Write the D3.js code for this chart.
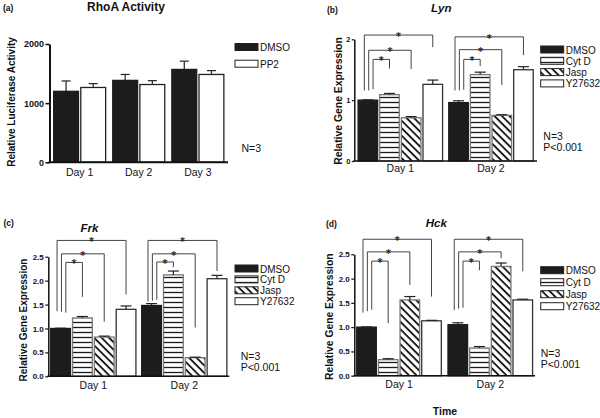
<!DOCTYPE html>
<html><head><meta charset="utf-8">
<script src="https://cdn.jsdelivr.net/npm/d3@7"></script>
<style>
body{margin:0;background:#fff}
svg{display:block}
text{font-family:"Liberation Sans",Arial,Helvetica,sans-serif;fill:#111}
text.star{font-family:"DejaVu Sans",sans-serif;fill:#222;stroke:#222;stroke-width:0.25}
</style>
</head><body>
<svg id="chart" width="600" height="418"></svg>
<script>
// ---------------- DATA ----------------
const days3 = ["Day 1", "Day 2", "Day 3"];
const days2 = ["Day 1", "Day 2"];
const rhoaSeries = ["DMSO", "PP2"];
const rhoaDMSO = [1200, 1385, 1570];
const rhoaDMSOErr = [175, 100, 140];
const rhoaPP2 = [1265, 1315, 1485];
const rhoaPP2Err = [65, 65, 65];
const rhoaTicks = [0, 1000, 2000];

const geneSeries = ["DMSO", "Cyt D", "Jasp", "Y27632"];
// values per day: [DMSO, Cyt D, Jasp, Y27632]
const lynValues = [[1.00, 1.09, 0.71, 1.26], [0.96, 1.42, 0.75, 1.50]];
const lynErrors = [[0.005, 0.02, 0.02, 0.07], [0.03, 0.04, 0.01, 0.05]];
const lynTicks = [0, 1, 2];
const frkValues = [[1.00, 1.22, 0.82, 1.40], [1.48, 2.12, 0.39, 2.04]];
const frkErrors = [[0.005, 0.03, 0.02, 0.07], [0.04, 0.08, 0.01, 0.07]];
const hckValues = [[1.00, 0.33, 1.56, 1.13], [1.05, 0.57, 2.25, 1.56]];
const hckErrors = [[0.005, 0.02, 0.07, 0.01], [0.04, 0.03, 0.07, 0.015]];
const geneTicks = [0, 0.5, 1.0, 1.5, 2.0, 2.5];

// significance brackets: [day, target series, top level, DMSO-leg bottom, target-leg bottom]
const lynBrackets = [[0,3,2.07,1.16,1.87],[0,2,1.82,1.16,1.51],[0,1,1.67,1.18,1.52],
                     [1,3,2.04,1.16,1.74],[1,2,1.83,1.16,1.25],[1,1,1.67,1.17,1.56]];
const frkBrackets = [[0,3,2.84,1.36,1.71],[0,2,2.56,1.35,1.14],[0,1,2.38,1.33,1.66],
                     [1,3,2.84,1.56,2.20],[1,2,2.56,1.58,1.02],[1,1,2.39,1.60,2.28]];
const hckBrackets = [[0,3,2.81,1.30,1.63],[0,2,2.55,1.33,1.87],[0,1,2.36,1.36,1.08],
                     [1,3,2.81,1.35,2.15],[1,2,2.55,1.38,2.42],[1,1,2.36,1.40,2.17]];
const statsText = ["N=3", "P<0.001"];

// ---------------- DRAWING ----------------
const svg = d3.select("#chart");
const defs = svg.append("defs");
const hp = defs.append("pattern").attr("id","hstripe").attr("patternUnits","userSpaceOnUse")
  .attr("width",6).attr("height",5);
hp.append("rect").attr("width",6).attr("height",5).attr("fill","#fff");
hp.append("line").attr("x1",0).attr("x2",6).attr("y1",2.5).attr("y2",2.5)
  .attr("stroke","#1a1a1a").attr("stroke-width",1.3);
const dp = defs.append("pattern").attr("id","dstripe").attr("patternUnits","userSpaceOnUse")
  .attr("width",5.3).attr("height",5.3).attr("patternTransform","rotate(-45)");
dp.append("rect").attr("width",5.3).attr("height",5.3).attr("fill","#fff");
dp.append("line").attr("x1",2.6).attr("x2",2.6).attr("y1",0).attr("y2",5.3)
  .attr("stroke","#1a1a1a").attr("stroke-width",1.9);

const fills = {"DMSO":"#1c1c1c","PP2":"#fff","Cyt D":"url(#hstripe)","Jasp":"url(#dstripe)","Y27632":"#fff"};
const strokes = {"DMSO":"#1c1c1c","PP2":"#222","Cyt D":"#777","Jasp":"#777","Y27632":"#333"};

function drawPanel(c) {
  const g = svg.append("g");
  const y = d3.scaleLinear().domain([0, c.yMax]).range([c.y0, c.yTop]);
  const xo = d3.scaleBand().domain(c.groups).range([c.x0, c.x1])
    .paddingInner(c.pIn).paddingOuter(c.pOut);
  const xi = d3.scaleBand().domain(c.series).range([0, xo.bandwidth()]).paddingInner(c.barGap);
  const bw = xi.bandwidth();

  // bars
  c.groups.forEach((grp, gi) => {
    c.series.forEach((s, si) => {
      const v = c.val(gi, si), e = c.err(gi, si);
      const bx = xo(grp) + xi(s);
      g.append("rect").attr("x", bx + 0.6).attr("y", y(v))
        .attr("width", bw - 1.2).attr("height", y(0) - y(v))
        .attr("fill", fills[s]).attr("stroke", strokes[s]).attr("stroke-width", 1.3);
      const cx = bx + bw / 2;
      g.append("line").attr("x1", cx).attr("x2", cx).attr("y1", y(v)).attr("y2", y(v + e))
        .attr("stroke", "#222").attr("stroke-width", 1.2);
      g.append("line").attr("x1", cx - c.cap/2).attr("x2", cx + c.cap/2)
        .attr("y1", y(v + e)).attr("y2", y(v + e)).attr("stroke", "#222").attr("stroke-width", 1.2);
    });
  });

  // brackets
  if (c.brackets) {
    const frac = [0.33, 0.54, 0.75];
    c.brackets.forEach(b => {
      const [gi, ti, top, lb, rb] = b;
      const grp = c.groups[gi];
      const xl = xo(grp) + xi(c.series[0]) + bw * frac[3 - ti];
      const xr = xo(grp) + xi(c.series[ti]) + bw / 2;
      g.append("path")
        .attr("d", `M${xl},${y(lb)}V${y(top)}H${xr}V${y(rb)}`)
        .attr("fill", "none").attr("stroke", "#444").attr("stroke-width", 1);
      g.append("text").attr("class", "star").attr("x", (xl + xr) / 2).attr("y", y(top) + 5)
        .attr("text-anchor", "middle").attr("font-size", 10).text("*");
    });
  }

  // axes
  const ya = g.append("g").attr("transform", `translate(${c.x0},0)`)
    .call(d3.axisLeft(y).tickValues(c.ticks).tickFormat(c.fmt).tickSize(c.tick).tickSizeOuter(0).tickPadding(1.5));
  ya.select(".domain").attr("stroke", "#111").attr("stroke-width", c.axW);
  ya.selectAll(".tick line").attr("stroke", "#111").attr("stroke-width", c.axW * 0.8);
  ya.selectAll("text").attr("font-size", c.tickFs).attr("font-weight", "bold")
    .style("font-family", '"Liberation Sans",Arial,sans-serif').attr("fill", "#111");

  const xa = g.append("g").attr("transform", `translate(0,${c.y0})`)
    .call(d3.axisBottom(xo).tickSize(0).tickSizeOuter(0).tickPadding(c.xPad));
  xa.select(".domain").attr("stroke", "#111").attr("stroke-width", c.axW)
    .attr("d", `M${c.x0 - c.axW/2},0H${c.x1}`);
  xa.selectAll("text").attr("font-size", c.xFs)
    .style("font-family", '"Liberation Sans",Arial,sans-serif').attr("fill", "#111");

  // y label
  g.append("text").attr("transform", `translate(${c.ylx},${c.yly}) rotate(-90)`)
    .attr("text-anchor", "middle").attr("font-size", c.ylFs).attr("font-weight", "bold")
    .text(c.ylabel);
  // title
  g.append("text").attr("x", c.tx).attr("y", c.ty).attr("text-anchor", "middle")
    .attr("font-size", c.tFs).attr("font-weight", "bold")
    .attr("font-style", c.italic ? "italic" : "normal").text(c.title);
  // panel letter
  g.append("text").attr("x", c.lx).attr("y", c.ly).attr("font-size", 8.5)
    .attr("font-weight", "bold").text(c.letter);

  // legend
  c.series.forEach((s, i) => {
    const ry = c.legY + i * c.legS;
    g.append("rect").attr("x", c.legX).attr("y", ry).attr("width", 23).attr("height", 7)
      .attr("fill", fills[s]).attr("stroke", "#222").attr("stroke-width", 1);
    g.append("text").attr("x", c.legX + 25).attr("y", ry + 7.5)
      .attr("font-size", 10).text(s);
  });
  // stats
  c.stats.forEach((t, i) => {
    g.append("text").attr("x", c.sx).attr("y", c.sy + i * 11)
      .attr("font-size", 10.5).text(t);
  });
}

drawPanel({
  groups: days3, series: rhoaSeries,
  val: (gi, si) => (si === 0 ? rhoaDMSO : rhoaPP2)[gi],
  err: (gi, si) => (si === 0 ? rhoaDMSOErr : rhoaPP2Err)[gi],
  yMax: 2000, ticks: rhoaTicks, fmt: d3.format("d"),
  x0: 49.5, x1: 228, y0: 162.3, yTop: 44, pIn: 0.1, pOut: 0.06, barGap: 0.04,
  cap: 9, axW: 2, tick: 4, tickFs: 9, xFs: 10.5, xPad: 6,
  ylabel: "Relative Luciferase Activity", ylx: 15, yly: 102, ylFs: 10,
  title: "RhoA Activity", tx: 126, ty: 11, tFs: 12, italic: false,
  letter: "(a)", lx: 3, ly: 11,
  legX: 235, legY: 43.5, legS: 16.7,
  stats: ["N=3"], sx: 241.5, sy: 151.5
});

drawPanel({
  groups: days2, series: geneSeries,
  val: (gi, si) => lynValues[gi][si], err: (gi, si) => lynErrors[gi][si],
  yMax: 2, ticks: lynTicks, fmt: d3.format("d"),
  x0: 354.3, x1: 537, y0: 161, yTop: 39.3, pIn: 0.055, pOut: 0.035, barGap: 0.04,
  cap: 11, axW: 1.5, tick: 2.5, tickFs: 7.5, xFs: 10.5, xPad: 4,
  brackets: lynBrackets,
  ylabel: "Relative Gene Expression", ylx: 341.5, yly: 101, ylFs: 10.4,
  title: "Lyn", tx: 441.3, ty: 12, tFs: 11.5, italic: true,
  letter: "(b)", lx: 327, ly: 12.5,
  legX: 540.7, legY: 46, legS: 11.3,
  stats: statsText, sx: 543.3, sy: 140
});

drawPanel({
  groups: days2, series: geneSeries,
  val: (gi, si) => frkValues[gi][si], err: (gi, si) => frkErrors[gi][si],
  yMax: 2.5, ticks: geneTicks, fmt: d3.format(".1f"),
  x0: 48.3, x1: 229.3, y0: 376.3, yTop: 256.7, pIn: 0.05, pOut: 0.02, barGap: 0.04,
  cap: 11, axW: 1.5, tick: 3, tickFs: 8, xFs: 10.5, xPad: 5,
  brackets: frkBrackets,
  ylabel: "Relative Gene Expression", ylx: 26.5, yly: 320, ylFs: 10,
  title: "Frk", tx: 89.5, ty: 231.5, tFs: 11.5, italic: true,
  letter: "(c)", lx: 3.5, ly: 226,
  legX: 235, legY: 265, legS: 10.9,
  stats: statsText, sx: 240.7, sy: 360
});

drawPanel({
  groups: days2, series: geneSeries,
  val: (gi, si) => hckValues[gi][si], err: (gi, si) => hckErrors[gi][si],
  yMax: 2.5, ticks: geneTicks, fmt: d3.format(".1f"),
  x0: 354.3, x1: 535, y0: 375.7, yTop: 254.3, pIn: 0.06, pOut: 0.02, barGap: 0.04,
  cap: 11, axW: 1.5, tick: 3, tickFs: 8, xFs: 10.5, xPad: 5,
  brackets: hckBrackets,
  ylabel: "Relative Gene Expression", ylx: 333, yly: 316.7, ylFs: 10.3,
  title: "Hck", tx: 436.3, ty: 226.5, tFs: 11.5, italic: true,
  letter: "(d)", lx: 326, ly: 226.5,
  legX: 540.7, legY: 266.7, legS: 12,
  stats: statsText, sx: 540.7, sy: 356.5
});

svg.append("text").attr("x", 445).attr("y", 415).attr("text-anchor", "middle")
  .attr("font-size", 10.5).attr("font-weight", "bold").text("Time");
</script>
</body></html>
